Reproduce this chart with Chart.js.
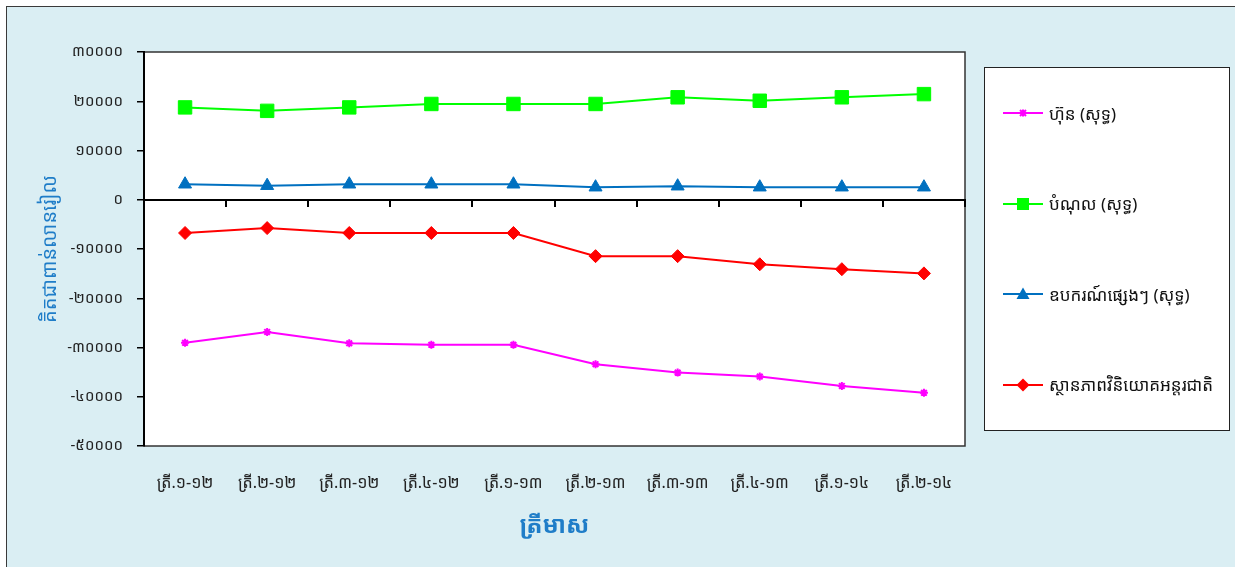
<!DOCTYPE html>
<html>
<head>
<meta charset="utf-8">
<script src="https://cdn.jsdelivr.net/npm/chart.js@4.4.1/dist/chart.umd.min.js"></script>
<style>
    body { margin: 0; background: #fff; overflow: hidden; width: 1235px; height: 567px; position: relative;
           font-family: 'Noto Sans Khmer', 'Khmer OS', 'Noto Sans', 'DejaVu Sans', sans-serif; }
    #moldura { position: absolute; left: 6px; top: 6px; width: 1240px; height: 570px;
               border: 1.5px solid #3a3a3a; background: #DAEEF3; }
    #iipChart { position: absolute; left: 0; top: 0; }
    #legenda { position: absolute; left: 984px; top: 67px; width: 246px; height: 364px; box-sizing: border-box;
               border: 1.5px solid #222; background: #fff;
               display: flex; flex-direction: column; justify-content: space-around; }
    .item { display: flex; align-items: center; height: 24px; font-size: 17px; color: #111; }
    .item canvas { margin-left: 18px; margin-right: 6px; }
</style>
</head>
<body>
<div id="moldura"></div>
<canvas id="iipChart" width="1235" height="567"></canvas>
<div id="legenda"></div>
<script>
// =========================================
// 1. DADOS (em mil milhões de riel)
// =========================================
const trimestres = ['ត្រី.១-១២', 'ត្រី.២-១២', 'ត្រី.៣-១២', 'ត្រី.៤-១២', 'ត្រី.១-១៣',
                    'ត្រី.២-១៣', 'ត្រី.៣-១៣', 'ត្រី.៤-១៣', 'ត្រី.១-១៤', 'ត្រី.២-១៤'];

const hun        = [-29050, -26850, -29150, -29450, -29450, -33400, -35100, -35900, -37800, -39200];
const bamnol     = [18750, 18050, 18750, 19450, 19450, 19450, 20800, 20100, 20800, 21450];
const ubakar     = [3150, 2850, 3150, 3150, 3150, 2550, 2750, 2550, 2550, 2550];
const sthanPheap = [-6750, -5750, -6750, -6750, -6750, -11450, -11450, -13100, -14100, -14950];

const nomesSeries = ['ហ៊ុន (សុទ្ធ)', 'បំណុល (សុទ្ធ)', 'ឧបករណ៍ផ្សេងៗ (សុទ្ធ)', 'ស្ថានភាពវិនិយោគអន្តរជាតិ'];
const tituloX = 'ត្រីមាស';
const tituloY = 'គិតជាពាន់លានរៀល';

// limites do eixo Y e passo
const yMin = -50000;
const yMax = 30000;
const yPasso = 10000;

const digitosKhmer = ['០', '១', '២', '៣', '៤', '៥', '៦', '៧', '៨', '៩'];
const FONTE = "'Noto Sans Khmer', 'Khmer OS', 'Noto Sans', 'DejaVu Sans', sans-serif";

function paraKhmer(valor) {
    return String(valor).replace(/[0-9]/g, d => digitosKhmer[d]);
}

// =========================================
// 2. FUNDO BRANCO E MOLDURA DA ÁREA DO GRÁFICO
// =========================================
const fundoGrafico = {
    id: 'fundoGrafico',
    beforeDraw(chart) {
        const { ctx, chartArea: a } = chart;
        ctx.save();
        ctx.fillStyle = '#fff';
        ctx.fillRect(a.left, a.top, a.width, a.height);
        ctx.strokeStyle = '#333';
        ctx.lineWidth = 1.5;
        ctx.strokeRect(a.left, a.top, a.width, a.height);
        ctx.restore();
    }
};

// =========================================
// 3. GRÁFICO
// =========================================
const ctx = document.getElementById('iipChart').getContext('2d');

const grafico = new Chart(ctx, {
    type: 'line',
    data: {
        labels: trimestres,
        datasets: [{
            label: nomesSeries[0],
            data: hun,
            borderColor: '#FF00FF',
            backgroundColor: '#FF00FF',
            pointStyle: 'star',
            pointRadius: 4,
            pointBorderWidth: 2,
            borderWidth: 2
        }, {
            label: nomesSeries[1],
            data: bamnol,
            borderColor: '#00FF00',
            backgroundColor: '#00FF00',
            pointStyle: 'rect',
            pointRadius: 9.5,
            pointBorderWidth: 1,
            borderWidth: 2
        }, {
            label: nomesSeries[2],
            data: ubakar,
            borderColor: '#0070C0',
            backgroundColor: '#0070C0',
            pointStyle: 'triangle',
            pointRadius: 7.5,
            pointBorderWidth: 1,
            borderWidth: 2
        }, {
            label: nomesSeries[3],
            data: sthanPheap,
            borderColor: '#FF0000',
            backgroundColor: '#FF0000',
            pointStyle: 'rectRot',
            pointRadius: 6.5,
            pointBorderWidth: 1,
            borderWidth: 2
        }]
    },
    options: {
        responsive: false,
        animation: false,
        layout: { padding: { left: 0, top: 52, right: 270, bottom: 0 } },
        plugins: {
            legend: { display: false },
            tooltip: { enabled: false }
        },
        scales: {
            x: {
                type: 'category',
                offset: true,
                grid: { display: false, drawTicks: false },
                border: { display: false },
                ticks: { color: '#222', font: { size: 16, family: FONTE }, padding: 28, maxRotation: 0, autoSkip: false },
                title: { display: true, text: tituloX, color: '#1F7DC8',
                         font: { size: 24, weight: 'bold', family: FONTE }, padding: { top: 0, bottom: 26 } },
                afterFit: s => { s.height = 121; }
            },
            // linha do zero com as marcas entre trimestres
            xZero: {
                type: 'category',
                axis: 'x',
                labels: trimestres,
                offset: true,
                position: { y: 0 },
                grid: { drawOnChartArea: false, offset: true, color: '#000', lineWidth: 2, tickLength: 6 },
                border: { color: '#000', width: 2 },
                ticks: { display: false }
            },
            y: {
                min: yMin,
                max: yMax,
                ticks: { stepSize: yPasso, color: '#222', font: { size: 15, family: FONTE }, padding: 14,
                         callback: v => paraKhmer(v) },
                grid: { drawOnChartArea: false, color: '#000', lineWidth: 1.5, tickLength: 7 },
                border: { color: '#000', width: 2 },
                title: { display: true, text: tituloY, color: '#1F7DC8',
                         font: { size: 20, family: FONTE }, padding: { top: 38, bottom: 0 } },
                afterFit: s => { s.width = 144; }
            }
        }
    },
    plugins: [fundoGrafico]
});

// =========================================
// 4. LEGENDA (caixa à direita)
// =========================================
function desenharMarcador(c, ds) {
    const g = c.getContext('2d');
    const cx = 20, cy = c.height / 2, r = Math.min(ds.pointRadius, 7);
    g.strokeStyle = ds.borderColor;
    g.fillStyle = ds.backgroundColor;
    g.lineWidth = 2;
    g.beginPath(); g.moveTo(0, cy); g.lineTo(40, cy); g.stroke();
    g.beginPath();
    if (ds.pointStyle === 'rect') {
        g.fillRect(cx - 6, cy - 6, 12, 12);
    } else if (ds.pointStyle === 'triangle') {
        g.moveTo(cx, cy - 6.5); g.lineTo(cx + 6.5, cy + 5); g.lineTo(cx - 6.5, cy + 5); g.closePath(); g.fill();
    } else if (ds.pointStyle === 'rectRot') {
        g.moveTo(cx, cy - r); g.lineTo(cx + r, cy); g.lineTo(cx, cy + r); g.lineTo(cx - r, cy); g.closePath(); g.fill();
    } else {
        g.moveTo(cx - 3, cy - 3); g.lineTo(cx + 3, cy + 3);
        g.moveTo(cx + 3, cy - 3); g.lineTo(cx - 3, cy + 3);
        g.moveTo(cx, cy - 3.5); g.lineTo(cx, cy + 3.5);
        g.stroke();
    }
}

const legenda = document.getElementById('legenda');
grafico.data.datasets.forEach(ds => {
    const item = document.createElement('div');
    item.className = 'item';
    const marca = document.createElement('canvas');
    marca.width = 40; marca.height = 20;
    desenharMarcador(marca, ds);
    const texto = document.createElement('span');
    texto.textContent = ds.label;
    item.appendChild(marca);
    item.appendChild(texto);
    legenda.appendChild(item);
});
</script>
</body>
</html>
